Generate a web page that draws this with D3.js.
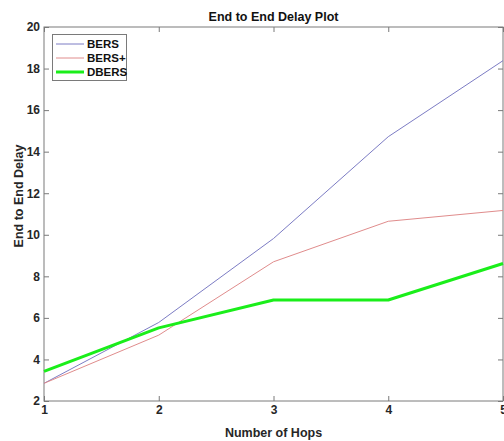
<!DOCTYPE html>
<html>
<head>
<meta charset="utf-8">
<script src="https://cdn.jsdelivr.net/npm/d3@7"></script>
<style>
html,body{margin:0;padding:0;background:#fff;}
svg{display:block;}
text{font-family:"Liberation Sans",Arial,sans-serif;font-weight:bold;}
</style>
</head>
<body>
<svg id="chart" width="504" height="441"></svg>
<script>
const hops = [1, 2, 3, 4, 5];
const bers = [2.85, 5.78, 9.82, 14.72, 18.38];
const bersPlus = [2.85, 5.17, 8.7, 10.65, 11.17];
const dbers = [3.43, 5.52, 6.86, 6.86, 8.62];
const seriesNames = ["BERS", "BERS+", "DBERS"];
const xTicks = [1, 2, 3, 4, 5];
const yTicks = [2, 4, 6, 8, 10, 12, 14, 16, 18, 20];

const series = [
  {name: seriesNames[0], values: bers, color: "#7c7cc4", width: 1},
  {name: seriesNames[1], values: bersPlus, color: "#e08c8c", width: 1},
  {name: seriesNames[2], values: dbers, color: "#1aee1a", width: 3}
];

const svg = d3.select("#chart");
const L = 44, R = 503, T = 27, B = 401;
const x = d3.scaleLinear().domain([1, 5]).range([L, R]);
const y = d3.scaleLinear().domain([2, 20]).range([B, T]);
const axisColor = "#7a7a7a";
const textColor = "#262626";
const fmt = d3.format("d");

// box
svg.append("rect").attr("x", L).attr("y", T).attr("width", R - L).attr("height", B - T)
  .attr("fill", "none").attr("stroke", axisColor).attr("stroke-width", 1);

// axes
const gx = svg.append("g").attr("transform", `translate(0,${B})`)
  .call(d3.axisBottom(x).tickValues(xTicks).tickFormat(fmt).tickSizeInner(-5).tickSizeOuter(0).tickPadding(4));
const gxTop = svg.append("g").attr("transform", `translate(0,${T})`)
  .call(d3.axisTop(x).tickValues(xTicks).tickSizeInner(-5).tickSizeOuter(0).tickFormat(""));
const gy = svg.append("g").attr("transform", `translate(${L},0)`)
  .call(d3.axisLeft(y).tickValues(yTicks).tickFormat(fmt).tickSizeInner(-5).tickSizeOuter(0).tickPadding(4));
const gyR = svg.append("g").attr("transform", `translate(${R},0)`)
  .call(d3.axisRight(y).tickValues(yTicks).tickSizeInner(-5).tickSizeOuter(0).tickFormat(""));
[gx, gxTop, gy, gyR].forEach(g => {
  g.select(".domain").remove();
  g.selectAll(".tick line").attr("stroke", axisColor);
  g.selectAll("text").attr("fill", textColor).attr("font-size", 12).attr("font-weight", "bold")
    .attr("font-family", "'Liberation Sans', Arial, sans-serif");
});

// lines
const line = d3.line().x((d, i) => x(hops[i])).y(d => y(d));
series.forEach(s => {
  svg.append("path").datum(s.values).attr("d", line)
    .attr("fill", "none").attr("stroke", s.color).attr("stroke-width", s.width)
    .attr("stroke-linejoin", "round");
});

// title & labels
svg.append("text").attr("x", (L + R) / 2).attr("y", 21).attr("text-anchor", "middle")
  .attr("font-size", 12.5).attr("fill", "#111").text("End to End Delay Plot");
svg.append("text").attr("x", (L + R) / 2).attr("y", 437).attr("text-anchor", "middle")
  .attr("font-size", 12.5).attr("fill", textColor).text("Number of Hops");
svg.append("text").attr("transform", "translate(23,196) rotate(-90)").attr("text-anchor", "middle")
  .attr("font-size", 12.5).attr("fill", textColor).text("End to End Delay");

// legend
const lg = svg.append("g");
lg.append("rect").attr("x", 52.5).attr("y", 34.5).attr("width", 74).attr("height", 46)
  .attr("fill", "#fff").attr("stroke", axisColor).attr("stroke-width", 1);
series.forEach((s, i) => {
  const yy = 44 + i * 14;
  lg.append("line").attr("x1", 56).attr("x2", 84).attr("y1", yy).attr("y2", yy)
    .attr("stroke", s.color).attr("stroke-width", s.width);
  lg.append("text").attr("x", 87).attr("y", yy + 4).attr("font-size", 11.5)
    .attr("fill", "#111").text(s.name);
});
</script>
</body>
</html>
